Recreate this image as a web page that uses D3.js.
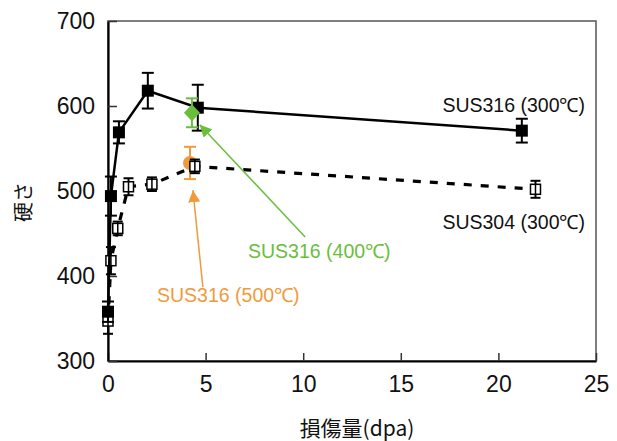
<!DOCTYPE html>
<html>
<head>
<meta charset="utf-8">
<script src="https://cdn.jsdelivr.net/npm/d3@7"></script>
<style>
  body { margin: 0; background: #fff; }
  text { font-family: "Liberation Sans", Arial, sans-serif; }
  .cjk { font-family: "Noto Sans CJK JP", sans-serif; }
</style>
</head>
<body>
<svg width="617" height="441"></svg>
<script>
// SUS316 (300C) - filled squares, solid line
const dpa316 = [0, 0.15, 0.56, 2.04, 4.6, 21.2];
const hard316 = [358, 494, 569, 618, 598, 571];
const err316 = [12, 23, 13, 21, 27, 14];

// SUS304 (300C) - open squares, dashed line
const dpa304 = [0, 0.15, 0.5, 1.05, 2.25, 4.45, 21.9];
const hard304 = [347, 418, 456, 505, 508, 529, 502];
const err304 = [15, 16, 8, 10, 8, 8, 10];

// single points
const pt400 = { dpa: 4.3, hard: 592, err: 17 };
const pt500 = { dpa: 4.2, hard: 533, err: 19 };

const xTicks = [0, 5, 10, 15, 20, 25];
const yTicks = [300, 400, 500, 600, 700];

const orange = "#f19a3c";
const green = "#69be3c";

const svg = d3.select("svg");
const padding = { top: 21, right: 21, bottom: 80, left: 108 };
const W = 617, H = 441;

const x = d3.scaleLinear().domain([0, 25]).range([padding.left, W - padding.right]);
const y = d3.scaleLinear().domain([300, 700]).range([H - padding.bottom, padding.top]);

// frame
svg.append("rect")
    .attr("x", x(0)).attr("y", y(700))
    .attr("width", x(25) - x(0)).attr("height", y(300) - y(700))
    .attr("fill", "none").attr("stroke", "#555").attr("stroke-width", 1.5);

// axes
const xAxis = svg.append("g")
    .attr("transform", `translate(0, ${y(300)})`)
    .call(d3.axisBottom(x).tickValues(xTicks).tickSizeInner(-8).tickSizeOuter(0).tickPadding(15));
const yAxis = svg.append("g")
    .attr("transform", `translate(${x(0)}, 0)`)
    .call(d3.axisLeft(y).tickValues(yTicks).tickSizeInner(-9).tickSizeOuter(0).tickPadding(13));

[xAxis, yAxis].forEach(g => {
    g.select(".domain").attr("stroke", "#000").attr("stroke-width", 2.2);
    g.selectAll(".tick line").attr("stroke", "#333").attr("stroke-width", 1.5);
    g.selectAll(".tick text").attr("font-size", 23).attr("fill", "#111")
        .attr("font-family", "Liberation Sans, Arial, sans-serif");
});

// axis titles
svg.append("text").attr("class", "cjk")
    .attr("x", 357).attr("y", 436)
    .attr("text-anchor", "middle").attr("font-size", 21).attr("fill", "#111")
    .text("損傷量(dpa)");
svg.append("text").attr("class", "cjk")
    .attr("transform", "translate(31, 202) rotate(-90)")
    .attr("text-anchor", "middle").attr("font-size", 20).attr("fill", "#111")
    .text("硬さ");

// arrow markers
const defs = svg.append("defs");
[["arrO", orange], ["arrG", green]].forEach(([id, c]) => {
    defs.append("marker")
        .attr("id", id).attr("viewBox", "0 0 10 10")
        .attr("refX", 10).attr("refY", 5)
        .attr("markerWidth", 12).attr("markerHeight", 12)
        .attr("markerUnits", "userSpaceOnUse")
        .attr("orient", "auto")
        .append("path").attr("d", "M0,0 L10,5 L0,10 Z").attr("fill", c);
});

function errorBars(g, xs, ys, es, color, cap) {
    xs.forEach((d, i) => {
        const cx = x(d), y1 = y(ys[i] + es[i]), y2 = y(ys[i] - es[i]);
        g.append("line").attr("x1", cx).attr("x2", cx).attr("y1", y1).attr("y2", y2)
            .attr("stroke", color).attr("stroke-width", 2);
        [y1, y2].forEach(yy => g.append("line")
            .attr("x1", cx - cap / 2).attr("x2", cx + cap / 2).attr("y1", yy).attr("y2", yy)
            .attr("stroke", color).attr("stroke-width", 2));
    });
}

const line = d3.line().x(d => x(d[0])).y(d => y(d[1]));

// orange point (500C)
const gO = svg.append("g");
errorBars(gO, [pt500.dpa], [pt500.hard], [pt500.err], orange, 12);
gO.append("circle").attr("cx", x(pt500.dpa)).attr("cy", y(pt500.hard)).attr("r", 7).attr("fill", orange);

// SUS304
const g304 = svg.append("g");
g304.append("path")
    .datum(dpa304.map((d, i) => [d, hard304[i]]))
    .attr("d", line).attr("fill", "none").attr("stroke", "#000")
    .attr("stroke-width", 3.2).attr("stroke-dasharray", "8,9");
errorBars(g304, dpa304, hard304, err304, "#000", 10);
g304.selectAll("rect").data(dpa304).join("rect")
    .attr("x", (d) => x(d) - 5).attr("y", (d, i) => y(hard304[i]) - 5)
    .attr("width", 10).attr("height", 10)
    .attr("fill", "#fff").attr("stroke", "#000").attr("stroke-width", 1.5);
g304.selectAll("line.mid").data(dpa304).join("line").attr("class", "mid")
    .attr("x1", d => x(d)).attr("x2", d => x(d))
    .attr("y1", (d, i) => y(hard304[i]) - 5).attr("y2", (d, i) => y(hard304[i]) + 5)
    .attr("stroke", "#000").attr("stroke-width", 1.5);

// SUS316
const g316 = svg.append("g");
g316.append("path")
    .datum(dpa316.map((d, i) => [d, hard316[i]]))
    .attr("d", line).attr("fill", "none").attr("stroke", "#000").attr("stroke-width", 2.5);
errorBars(g316, dpa316, hard316, err316, "#000", 12);
g316.selectAll("rect").data(dpa316).join("rect")
    .attr("x", d => x(d) - 6).attr("y", (d, i) => y(hard316[i]) - 6)
    .attr("width", 12).attr("height", 12).attr("fill", "#000");

// green point (400C)
const gG = svg.append("g");
errorBars(gG, [pt400.dpa], [pt400.hard], [pt400.err], green, 12);
const gx = x(pt400.dpa), gy = y(pt400.hard);
gG.append("path")
    .attr("d", `M${gx},${gy - 8.5} L${gx + 8},${gy} L${gx},${gy + 8.5} L${gx - 8},${gy} Z`)
    .attr("fill", green);

// annotations
svg.append("line")
    .attr("x1", x(10.1)).attr("y1", y(446)).attr("x2", x(4.7)).attr("y2", y(578))
    .attr("stroke", green).attr("stroke-width", 1.5).attr("marker-end", "url(#arrG)");
svg.append("line")
    .attr("x1", x(4.86)).attr("y1", y(387)).attr("x2", x(4.35)).attr("y2", y(501))
    .attr("stroke", orange).attr("stroke-width", 1.5).attr("marker-end", "url(#arrO)");

const labels = [
    { t: "SUS316 (300℃)", x: 585, y: 112, a: "end", c: "#111" },
    { t: "SUS304 (300℃)", x: 585, y: 229, a: "end", c: "#111" },
    { t: "SUS316 (400℃)", x: 248, y: 258, a: "start", c: green },
    { t: "SUS316 (500℃)", x: 157, y: 302, a: "start", c: orange }
];
svg.selectAll("text.lbl").data(labels).join("text").attr("class", "lbl")
    .attr("x", d => d.x).attr("y", d => d.y).attr("text-anchor", d => d.a)
    .attr("fill", d => d.c).attr("font-size", 19.5)
    .text(d => d.t);
</script>
</body>
</html>
